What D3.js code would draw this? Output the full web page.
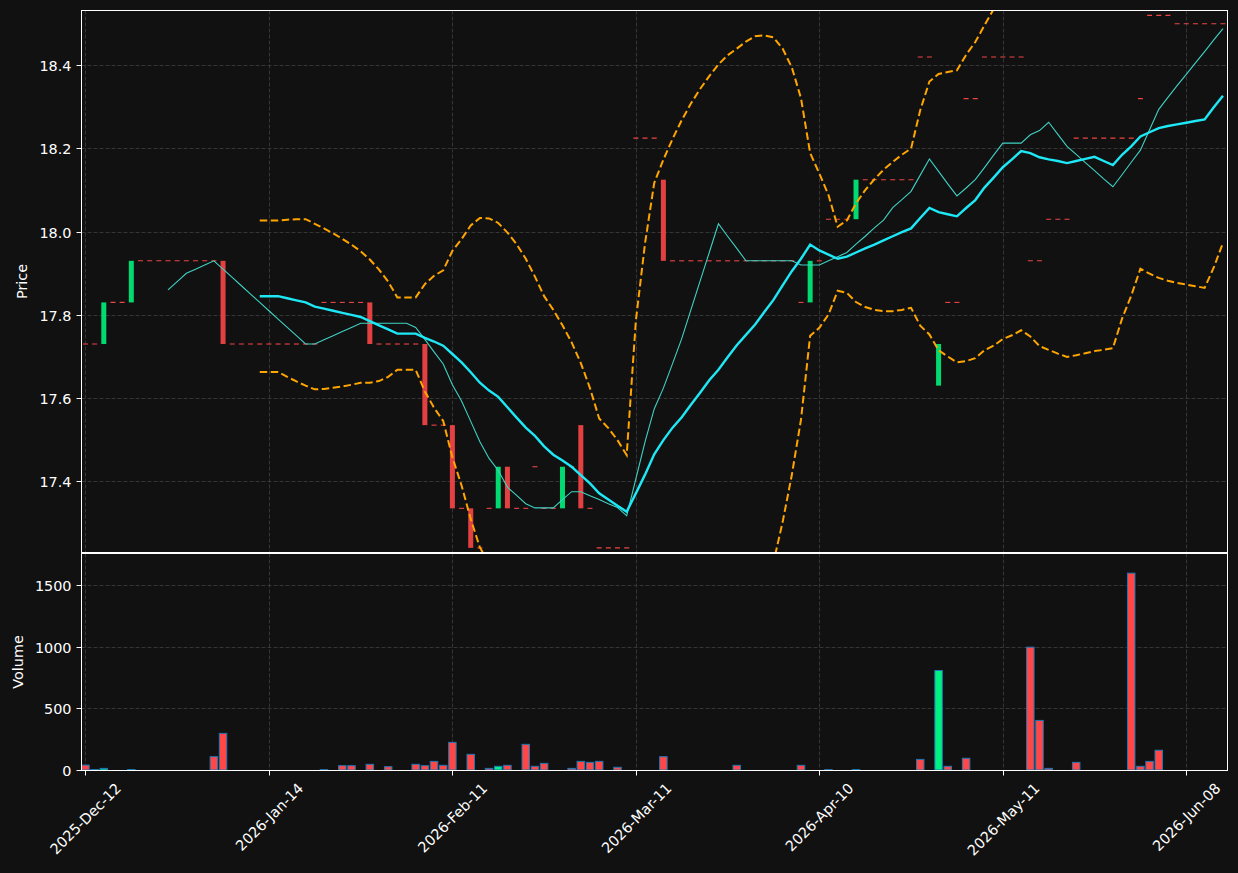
<!DOCTYPE html>
<html>
<head>
<meta charset="utf-8">
<script src="https://cdn.jsdelivr.net/npm/d3@7"></script>
<style>
  html, body { margin: 0; padding: 0; background: #111111; }
  svg text { font-family: "DejaVu Sans", sans-serif; }
</style>
</head>
<body>
<div id="chart"></div>
<script>
// ---- data (bar index based, like mplfinance) ----
const tickIdx = [0, 20, 40, 60, 80, 100, 120];
const tickLabels = ["2025-Dec-12", "2026-Jan-14", "2026-Feb-11", "2026-Mar-11",
                    "2026-Apr-10", "2026-May-11", "2026-Jun-08"];

const opens = [
  17.73, 17.73, 17.73, 17.83, 17.83, 17.83, 17.93, 17.93, 17.93, 17.93,
  17.93, 17.93, 17.93, 17.93, 17.93, 17.93, 17.73, 17.73, 17.73, 17.73,
  17.73, 17.73, 17.73, 17.73, 17.73, 17.73, 17.83, 17.83, 17.83, 17.83,
  17.83, 17.83, 17.73, 17.73, 17.73, 17.73, 17.73, 17.73, 17.535, 17.535,
  17.535, 17.335, 17.335, 17.24, 17.335, 17.335, 17.435, 17.335, 17.335, 17.435,
  17.335, 17.335, 17.335, 17.435, 17.535, 17.335, 17.24, 17.24, 17.24, 17.24,
  18.225, 18.225, 18.225, 18.125, 17.93, 17.93, 17.93, 17.93, 17.93, 17.93,
  17.93, 17.93, 17.93, 17.93, 17.93, 17.93, 17.93, 17.93, 17.83, 17.83,
  17.93, 18.03, 18.03, 18.03, 18.03, 18.125, 18.125, 18.125, 18.125, 18.125,
  18.125, 18.42, 18.42, 17.63, 17.83, 17.83, 18.32, 18.32, 18.42, 18.42,
  18.42, 18.42, 18.42, 17.93, 17.93, 18.03, 18.03, 18.03, 18.225, 18.225,
  18.225, 18.225, 18.225, 18.225, 18.225, 18.32, 18.52, 18.52, 18.52, 18.50,
  18.50, 18.50, 18.50, 18.50, 18.50
];
const closes = [
  17.73, 17.73, 17.83, 17.83, 17.83, 17.93, 17.93, 17.93, 17.93, 17.93,
  17.93, 17.93, 17.93, 17.93, 17.93, 17.73, 17.73, 17.73, 17.73, 17.73,
  17.73, 17.73, 17.73, 17.73, 17.73, 17.73, 17.83, 17.83, 17.83, 17.83,
  17.83, 17.73, 17.73, 17.73, 17.73, 17.73, 17.73, 17.535, 17.535, 17.535,
  17.335, 17.335, 17.24, 17.24, 17.335, 17.435, 17.335, 17.335, 17.335, 17.435,
  17.335, 17.335, 17.435, 17.435, 17.335, 17.335, 17.24, 17.24, 17.24, 17.24,
  18.225, 18.225, 18.225, 17.93, 17.93, 17.93, 17.93, 17.93, 17.93, 17.93,
  17.93, 17.93, 17.93, 17.93, 17.93, 17.93, 17.93, 17.93, 17.83, 17.93,
  17.93, 18.03, 18.03, 18.03, 18.125, 18.125, 18.125, 18.125, 18.125, 18.125,
  18.125, 18.42, 18.42, 17.73, 17.83, 17.83, 18.32, 18.32, 18.42, 18.42,
  18.42, 18.42, 18.42, 17.93, 17.93, 18.03, 18.03, 18.03, 18.225, 18.225,
  18.225, 18.225, 18.225, 18.225, 18.225, 18.32, 18.52, 18.52, 18.52, 18.50,
  18.50, 18.50, 18.50, 18.50, 18.50
];
const volumes = [
  40, 4, 13, 0, 0, 4, 0, 0, 0, 0,
  0, 0, 0, 0, 108, 297, 0, 0, 0, 0,
  0, 0, 0, 0, 0, 0, 3, 0, 35, 35,
  0, 46, 0, 27, 0, 0, 46, 35, 70, 38,
  224, 0, 127, 0, 13, 30, 38, 0, 208, 30,
  54, 0, 0, 13, 70, 62, 70, 0, 22, 0,
  0, 0, 0, 108, 0, 0, 0, 0, 0, 0,
  0, 38, 0, 0, 0, 0, 0, 0, 38, 0,
  0, 3, 0, 0, 3, 0, 0, 0, 0, 0,
  0, 86, 0, 807, 30, 0, 95, 0, 0, 0,
  0, 0, 0, 996, 402, 13, 0, 0, 62, 0,
  0, 0, 0, 0, 1596, 30, 70, 160, 0, 0,
  0, 0, 0, 0, 0
];

// moving average 10 (first value at bar 9)
const ma10Start = 9;
const ma10 = [
  17.860, 17.880, 17.900, 17.910, 17.920, 17.930, 17.910, 17.890, 17.870, 17.850,
  17.830, 17.810, 17.790, 17.770, 17.750, 17.730, 17.730, 17.740, 17.750, 17.760,
  17.770, 17.780, 17.780, 17.780, 17.780, 17.780, 17.780, 17.770, 17.741, 17.711,
  17.682, 17.632, 17.593, 17.544, 17.495, 17.455, 17.426, 17.386, 17.366, 17.346,
  17.336, 17.336, 17.336, 17.356, 17.375, 17.375, 17.365, 17.356, 17.346, 17.337,
  17.317, 17.406, 17.495, 17.574, 17.624, 17.683, 17.743, 17.812, 17.881, 17.950,
  18.019, 17.989, 17.960, 17.930, 17.930, 17.930, 17.930, 17.930, 17.930, 17.920,
  17.920, 17.920, 17.930, 17.940, 17.950, 17.970, 17.989, 18.009, 18.028, 18.058,
  18.077, 18.097, 18.136, 18.175, 18.145, 18.115, 18.086, 18.105, 18.125, 18.154,
  18.184, 18.213, 18.213, 18.213, 18.233, 18.243, 18.263, 18.234, 18.205, 18.186,
  18.166, 18.147, 18.127, 18.108, 18.137, 18.167, 18.196, 18.245, 18.294, 18.323,
  18.351, 18.378, 18.406, 18.433, 18.461, 18.488
];

// moving average 20 and bands (first value at bar 19)
const ma20Start = 19;
const ma20 = [
  17.845, 17.845, 17.845, 17.840, 17.835, 17.830, 17.820, 17.815, 17.810, 17.805,
  17.800, 17.795, 17.785, 17.775, 17.765, 17.755, 17.755, 17.755, 17.745, 17.736,
  17.726, 17.706, 17.686, 17.662, 17.637, 17.618, 17.603, 17.578, 17.553, 17.529,
  17.509, 17.484, 17.464, 17.450, 17.435, 17.415, 17.395, 17.371, 17.356, 17.341,
  17.327, 17.371, 17.416, 17.465, 17.499, 17.529, 17.554, 17.584, 17.613, 17.643,
  17.668, 17.698, 17.727, 17.752, 17.777, 17.807, 17.836, 17.871, 17.905, 17.935,
  17.969, 17.955, 17.945, 17.935, 17.940, 17.950, 17.960, 17.969, 17.979, 17.989,
  17.999, 18.008, 18.033, 18.057, 18.047, 18.042, 18.037, 18.057, 18.076, 18.106,
  18.130, 18.155, 18.174, 18.194, 18.189, 18.179, 18.174, 18.170, 18.165, 18.170,
  18.175, 18.180, 18.170, 18.160, 18.185, 18.205, 18.229, 18.239, 18.249, 18.254,
  18.258, 18.262, 18.266, 18.270, 18.299, 18.327
];
const bbUpper = [
  18.027, 18.027, 18.027, 18.029, 18.030, 18.030, 18.019, 18.008, 17.996, 17.983,
  17.969, 17.953, 17.933, 17.909, 17.880, 17.842, 17.842, 17.842, 17.874, 17.894,
  17.907, 17.954, 17.982, 18.015, 18.033, 18.032, 18.021, 17.998, 17.970, 17.935,
  17.892, 17.845, 17.812, 17.775, 17.734, 17.684, 17.624, 17.551, 17.528, 17.499,
  17.463, 17.786, 17.972, 18.117, 18.173, 18.223, 18.268, 18.308, 18.343, 18.374,
  18.402, 18.424, 18.440, 18.457, 18.470, 18.472, 18.467, 18.440, 18.395, 18.321,
  18.189, 18.140, 18.088, 18.012, 18.027, 18.068, 18.100, 18.126, 18.149, 18.168,
  18.185, 18.200, 18.292, 18.361, 18.379, 18.384, 18.388, 18.425, 18.456, 18.496,
  18.535, 18.567, 18.598, 18.625, 18.630, 18.634, 18.633, 18.632, 18.631, 18.636,
  18.641, 18.646, 18.624, 18.601, 18.579, 18.564, 18.547, 18.580, 18.610, 18.627,
  18.639, 18.652, 18.664, 18.675, 18.684, 18.682
];
const bbLower = [
  17.663, 17.663, 17.663, 17.651, 17.640, 17.630, 17.621, 17.622, 17.625, 17.628,
  17.632, 17.637, 17.637, 17.641, 17.651, 17.668, 17.668, 17.668, 17.616, 17.577,
  17.545, 17.458, 17.390, 17.309, 17.241, 17.203, 17.184, 17.158, 17.137, 17.122,
  17.125, 17.123, 17.117, 17.124, 17.136, 17.146, 17.167, 17.191, 17.184, 17.184,
  17.190, 16.956, 16.859, 16.813, 16.826, 16.835, 16.840, 16.859, 16.883, 16.912,
  16.933, 16.971, 17.014, 17.047, 17.083, 17.141, 17.205, 17.302, 17.415, 17.548,
  17.750, 17.769, 17.801, 17.858, 17.853, 17.831, 17.819, 17.812, 17.809, 17.809,
  17.812, 17.817, 17.774, 17.753, 17.715, 17.700, 17.686, 17.689, 17.696, 17.715,
  17.726, 17.742, 17.751, 17.763, 17.748, 17.725, 17.716, 17.707, 17.699, 17.703,
  17.708, 17.713, 17.716, 17.720, 17.791, 17.846, 17.911, 17.899, 17.889, 17.882,
  17.877, 17.873, 17.869, 17.865, 17.914, 17.973
];

const priceTicks = [17.4, 17.6, 17.8, 18.0, 18.2, 18.4];
const volTicks = [0, 500, 1000, 1500];

// ---- layout ----
const W = 1238, H = 873;
const left = 81.5, right = 1227.5;
const pTop = 10.5, pBot = 552.5;
const vTop = 553.5, vBot = 770.5;

const upCol = "#00e676", downCol = "#ef4444";
const volUp = "#00f082", volDown = "#ff4747";
const gridCol = "#3a3a3a";

const svg = d3.select("#chart").append("svg")
    .attr("width", W).attr("height", H)
    .style("display", "block")
    .style("background", "#111111");

// x: bar index
const x = d3.scaleLinear().domain([-0.43, 124.44]).range([81.5, 1227]);

// price scale calibrated on gridlines, then stretched to the panel edges
const yP0 = d3.scaleLinear().domain([17.4, 18.4]).range([481.3, 65.3]);
const y = d3.scaleLinear().domain([yP0.invert(pBot), yP0.invert(pTop)]).range([pBot, pTop]);

const yV0 = d3.scaleLinear().domain([0, 1500]).range([770, 585]);
const yV = d3.scaleLinear().domain([0, yV0.invert(vTop)]).range([770, vTop]);

const defs = svg.append("defs");
defs.append("clipPath").attr("id", "clipP")
  .append("rect").attr("x", left).attr("y", pTop).attr("width", right - left).attr("height", pBot - pTop);
defs.append("clipPath").attr("id", "clipV")
  .append("rect").attr("x", left).attr("y", vTop).attr("width", right - left).attr("height", vBot - vTop);

// ---- grid ----
const grid = svg.append("g").attr("stroke", gridCol).attr("stroke-width", 0.9)
    .attr("stroke-dasharray", "4,2").attr("fill", "none");
priceTicks.forEach(t => {
  grid.append("line").attr("x1", left).attr("x2", right)
    .attr("y1", Math.round(y(t)) + 0.5).attr("y2", Math.round(y(t)) + 0.5);
});
volTicks.slice(1).forEach(t => {
  grid.append("line").attr("x1", left).attr("x2", right)
    .attr("y1", Math.round(yV(t)) + 0.5).attr("y2", Math.round(yV(t)) + 0.5);
});
tickIdx.forEach(i => {
  const xx = Math.round(x(i)) + 0.5;
  grid.append("line").attr("x1", xx).attr("x2", xx).attr("y1", pTop).attr("y2", pBot);
  grid.append("line").attr("x1", xx).attr("x2", xx).attr("y1", vTop).attr("y2", vBot);
});

// ---- candles ----
const candles = svg.append("g").attr("clip-path", "url(#clipP)");
const bodyW = 5;
opens.forEach((o, i) => {
  const c = closes[i];
  const cx = x(i);
  if (o === c) {
    candles.append("line")
      .attr("x1", cx - bodyW / 2).attr("x2", cx + bodyW / 2)
      .attr("y1", y(c)).attr("y2", y(c))
      .attr("stroke", downCol).attr("stroke-width", 1.1);
  } else {
    candles.append("rect")
      .attr("x", cx - bodyW / 2).attr("width", bodyW)
      .attr("y", y(Math.max(o, c))).attr("height", Math.abs(y(o) - y(c)))
      .attr("fill", c > o ? upCol : downCol).attr("opacity", 0.95);
  }
});

// ---- lines ----
const lines = svg.append("g").attr("clip-path", "url(#clipP)").attr("fill", "none");
const mk = start => d3.line().x((d, k) => x(start + k)).y(d => y(d));

lines.append("path").attr("d", mk(ma20Start)(bbUpper))
  .attr("stroke", "#ffa500").attr("stroke-width", 2).attr("stroke-dasharray", "7.5,3.5");
lines.append("path").attr("d", mk(ma20Start)(bbLower))
  .attr("stroke", "#ffa500").attr("stroke-width", 2).attr("stroke-dasharray", "7.5,3.5");
lines.append("path").attr("d", mk(ma10Start)(ma10))
  .attr("stroke", "#3fd2c4").attr("stroke-width", 1.1);
lines.append("path").attr("d", mk(ma20Start)(ma20))
  .attr("stroke", "#1ee8f6").attr("stroke-width", 2.4);

// ---- volume ----
const vol = svg.append("g").attr("clip-path", "url(#clipV)");
volumes.forEach((v, i) => {
  if (v <= 0) return;
  vol.append("rect")
    .attr("x", x(i) - 3.75).attr("width", 7.5)
    .attr("y", yV(v)).attr("height", yV(0) - yV(v))
    .attr("fill", closes[i] > opens[i] ? volUp : volDown)
    .attr("stroke", "#1f77b4").attr("stroke-width", 1);
});

// ---- spines ----
const sp = svg.append("g").attr("fill", "none").attr("stroke", "#ffffff").attr("stroke-width", 1);
sp.append("rect").attr("x", left).attr("y", pTop).attr("width", right - left).attr("height", pBot - pTop);
sp.append("rect").attr("x", left).attr("y", vTop).attr("width", right - left).attr("height", vBot - vTop);

// ---- ticks & labels ----
const txt = svg.append("g").attr("fill", "#ffffff").attr("font-size", 14.4);
const tk = svg.append("g").attr("stroke", "#ffffff").attr("stroke-width", 1);

priceTicks.forEach(t => {
  const yy = Math.round(y(t)) + 0.5;
  tk.append("line").attr("x1", left - 5).attr("x2", left).attr("y1", yy).attr("y2", yy);
  txt.append("text").attr("x", 71.5).attr("y", yy).attr("text-anchor", "end")
    .attr("dominant-baseline", "central").text(t.toFixed(1));
});
volTicks.forEach(t => {
  const yy = Math.round(yV(t)) + 0.5;
  tk.append("line").attr("x1", left - 5).attr("x2", left).attr("y1", yy).attr("y2", yy);
  txt.append("text").attr("x", 71.5).attr("y", yy).attr("text-anchor", "end")
    .attr("dominant-baseline", "central").text(t);
});
tickIdx.forEach((i, k) => {
  const xx = Math.round(x(i)) + 0.5;
  tk.append("line").attr("x1", xx).attr("x2", xx).attr("y1", vBot).attr("y2", vBot + 5);
  const t = txt.append("text").attr("text-anchor", "end")
    .attr("dominant-baseline", "central").text(tickLabels[k]);
  const L = t.node().getComputedTextLength();
  t.attr("transform", `translate(${xx + 0.354 * L},${780 + 0.354 * 16.5}) rotate(-45)`);
});

txt.append("text").attr("transform", `translate(22,${(pTop + pBot) / 2}) rotate(-90)`)
  .attr("text-anchor", "middle").attr("dominant-baseline", "central").text("Price");
txt.append("text").attr("transform", `translate(17.5,${(vTop + vBot) / 2}) rotate(-90)`)
  .attr("text-anchor", "middle").attr("dominant-baseline", "central").text("Volume");
</script>
</body>
</html>
